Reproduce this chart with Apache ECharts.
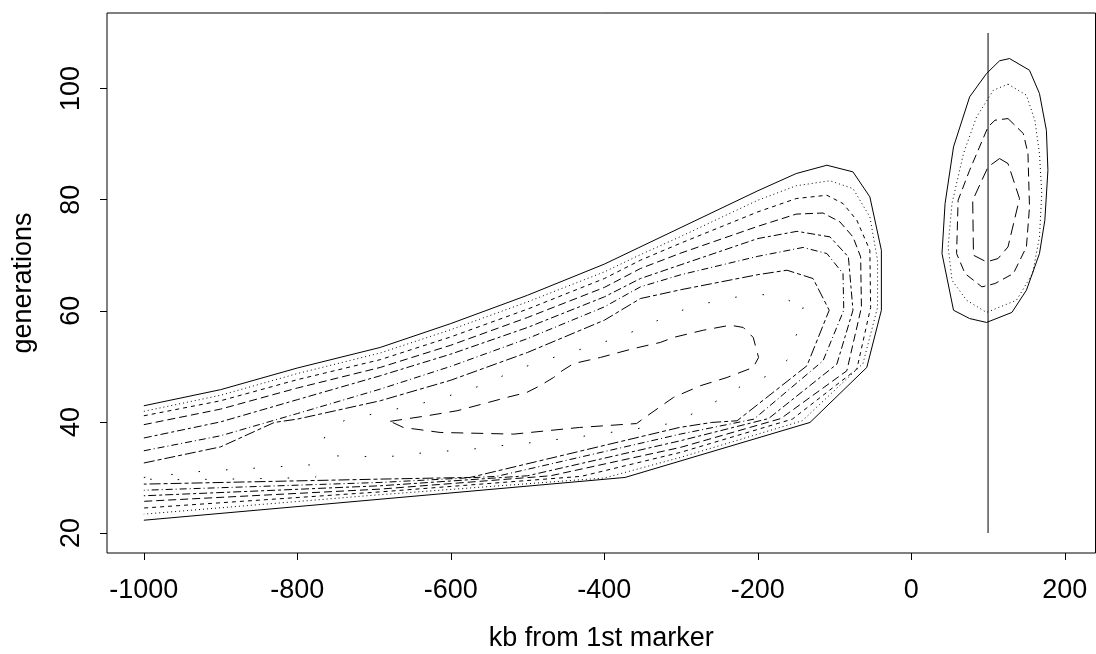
<!DOCTYPE html>
<html><head><meta charset="utf-8">
<script src="https://cdn.jsdelivr.net/npm/echarts@6/dist/echarts.min.js"></script>
<style>html,body{margin:0;padding:0;background:#fff}#c{width:1096px;height:654px}</style>
</head><body><div id="c"></div>
<script>
const xTicks = [-1000, -800, -600, -400, -200, 0, 200];
const yTicks = [20, 40, 60, 80, 100];

// left blob contours, outermost first (open curves from the left edge)
const L1 = [[-1000,42.9],[-900,45.8],[-800,49.7],[-692,53.4],[-600,57.7],[-500,62.8],[-400,68.4],[-300,75.0],[-200,81.6],[-150,84.7],[-110,86.2],[-76,85.0],[-54,80.5],[-39,70.9],[-39,60.1],[-58,49.8],[-132,39.9],[-373,30.0],[-1000,22.3]];
const L2 = [[-1000,41.9],[-900,44.8],[-800,48.7],[-692,52.4],[-600,56.6],[-500,61.6],[-400,67.0],[-353,70.1],[-300,73.4],[-200,79.9],[-150,82.5],[-106,83.4],[-76,82.0],[-54,76.9],[-44,69.1],[-44,60.6],[-63,50.5],[-142,40.2],[-301,33.6],[-400,29.9],[-692,26.9],[-1000,23.4]];
const L3 = [[-1000,41.1],[-900,43.8],[-800,47.6],[-692,51.2],[-600,55.3],[-500,60.3],[-400,65.8],[-353,69.1],[-300,72.2],[-200,77.8],[-150,80.2],[-110,80.8],[-89,79.3],[-71,76.3],[-54,70.9],[-53,60.6],[-71,49.5],[-155,40.5],[-301,34.5],[-430,30.2],[-692,27.4],[-1000,24.5]];
const L4 = [[-1000,39.5],[-900,42.3],[-800,46.1],[-692,49.8],[-600,53.8],[-500,58.8],[-400,64.2],[-353,67.6],[-300,70.4],[-200,75.2],[-150,77.4],[-115,77.6],[-93,76.0],[-76,73.3],[-66,69.7],[-65,60.6],[-84,49.2],[-170,40.6],[-301,35.4],[-470,30.3],[-692,27.9],[-1000,25.7]];
const L5 = [[-1000,37.1],[-900,40.0],[-800,44.0],[-692,48.3],[-600,52.2],[-500,57.0],[-400,62.5],[-353,65.8],[-300,68.3],[-200,73.0],[-149,74.3],[-106,73.3],[-82,69.7],[-76,60.1],[-97,50.4],[-186,40.6],[-301,36.6],[-500,30.3],[-692,28.5],[-1000,26.7]];
const L6 = [[-1000,34.8],[-900,37.5],[-800,41.5],[-692,45.9],[-600,50.0],[-500,55.0],[-400,60.7],[-353,64.3],[-300,66.5],[-200,69.8],[-141,71.4],[-110,70.3],[-89,66.7],[-88,60.1],[-115,51.0],[-205,40.5],[-301,37.8],[-540,30.2],[-692,29.1],[-1000,27.7]];
const L7 = [[-1000,32.6],[-900,35.5],[-830,39.9],[-800,40.5],[-692,43.8],[-600,47.5],[-500,52.5],[-400,58.3],[-353,62.2],[-300,63.8],[-200,66.5],[-162,67.3],[-128,65.8],[-107,60.1],[-136,50.1],[-227,40.2],[-260,39.9],[-302,39.0],[-575,30.0],[-692,29.7],[-1000,28.8]];
const L8a = [[-1000,30.0],[-925,31.1],[-852,31.7],[-779,32.3],[-765,31.5],[-777,30.0],[-813,29.9],[-889,29.7],[-962,29.6],[-1000,29.7]];
const L8b = [[-141,60.6],[-149,56.0],[-161,51.2],[-187,48.3],[-221,46.5],[-253,43.8],[-284,41.5],[-319,39.6],[-356,38.8],[-392,38.1],[-428,37.4],[-464,36.8],[-499,36.2],[-536,35.7],[-572,35.1],[-610,34.7],[-646,34.3],[-683,33.7],[-757,33.9],[-766,36.5],[-761,38.7],[-735,40.5],[-698,41.5],[-662,42.6],[-627,43.7],[-590,45.2],[-555,46.8],[-523,48.9],[-490,50.6],[-454,52.1],[-418,53.6],[-384,55.1],[-349,57.0],[-317,59.2],[-284,60.8],[-247,62.0],[-210,62.9],[-175,62.9],[-141,60.6]];
const L9 = [[-679,40.1],[-631,41.1],[-592,42.0],[-562,43.1],[-527,44.4],[-501,45.3],[-484,46.5],[-466,48.0],[-455,49.2],[-440,50.5],[-405,51.6],[-362,53.2],[-327,54.3],[-310,55.2],[-271,56.5],[-236,57.4],[-219,57.0],[-206,55.2],[-199,51.6],[-206,49.8],[-240,48.0],[-275,46.5],[-310,44.4],[-345,41.0],[-358,39.7],[-432,39.0],[-518,37.8],[-614,38.1],[-662,39.0],[-679,40.1]];

// right blob contours
const R1 = [[128,105.4],[154,103.3],[167,99.1],[176,92.5],[178,85.3],[174,76.3],[167,70.3],[150,63.7],[131,59.7],[98,57.9],[76,58.6],[55,60.1],[40,70.3],[44,79.3],[55,89.5],[76,98.5],[98,102.7],[115,105.0],[128,105.4]];
const R2 = [[126,100.8],[150,98.8],[161,94.3],[167,88.3],[170,81.1],[167,73.3],[158,66.7],[137,61.9],[98,59.7],[72,61.9],[53,65.5],[48,71.5],[53,79.3],[68,88.3],[85,94.9],[107,99.7],[126,100.8]];
const R3 = [[126,94.6],[146,91.9],[152,88.3],[154,78.7],[150,71.5],[133,66.7],[109,64.9],[92,64.3],[70,66.7],[59,70.3],[61,79.9],[76,85.3],[100,93.1],[109,94.3],[126,94.6]];
const R4 = [[115,87.4],[126,86.5],[141,80.2],[126,71.5],[113,69.4],[98,68.8],[81,70.0],[80,79.9],[100,85.9],[115,87.4]];

const markerLine = [[100,20],[100,110]];

const styles = {
  solid: 'solid', dotted: [1,3], dash: [4,4], longdash: [8,4],
  dashShort: [8,3,3,3], dashDot: [7,3,1,3], twodash: [11,3,4,3],
  sparse: [1.5,26], inner: [12,8], r3: [9,5], r4: [12,6]
};
const curves = [
  [L1,'solid'],[L2,'dotted'],[L3,'dash'],[L4,'longdash'],[L5,'dashShort'],[L6,'dashDot'],[L7,'twodash'],
  [L8a,'sparse'],[L8b,'sparse'],[L9,'inner'],
  [R1,'solid'],[R2,'dotted'],[R3,'r3'],[R4,'r4'],[markerLine,'solid']
];

const font = 'Liberation Sans, Arial, Helvetica, sans-serif';
const chart = echarts.init(document.getElementById('c'), null, {renderer: 'canvas'});
chart.setOption({
  animation: false,
  backgroundColor: '#fff',
  grid: {left: 107, right: 0.5, top: 13, bottom: 101, show: true, borderColor: '#000', borderWidth: 1,
         backgroundColor: 'transparent', containLabel: false, outerBoundsMode: 'none'},
  xAxis: {
    type: 'value', min: -1048, max: 240,
    axisLine: {show: false, onZero: false},
    splitLine: {show: false},
    axisTick: {show: true, customValues: xTicks, length: 7, lineStyle: {color: '#000'}},
    axisLabel: {customValues: xTicks, fontSize: 27, color: '#000', fontFamily: font, margin: 24, formatter: v => String(v)},
    name: 'kb from 1st marker', nameLocation: 'middle', nameGap: 72,
    nameTextStyle: {fontSize: 27, color: '#000', fontFamily: font}
  },
  yAxis: {
    type: 'value', min: 16.4, max: 113.6,
    axisLine: {show: false, onZero: false},
    splitLine: {show: false},
    axisTick: {show: true, customValues: yTicks, length: 7, lineStyle: {color: '#000'}},
    axisLabel: {customValues: yTicks, fontSize: 27, color: '#000', fontFamily: font, rotate: 90, margin: 22, formatter: v => String(v)},
    name: 'generations', nameLocation: 'middle', nameGap: 70,
    nameTextStyle: {fontSize: 27, color: '#000', fontFamily: font}
  },
  series: curves.map(([d, s]) => ({
    type: 'line', data: d, showSymbol: false, symbol: 'none', smooth: false,
    lineStyle: {color: '#000', width: 1, type: styles[s]}, silent: true
  }))
});
</script></body></html>
